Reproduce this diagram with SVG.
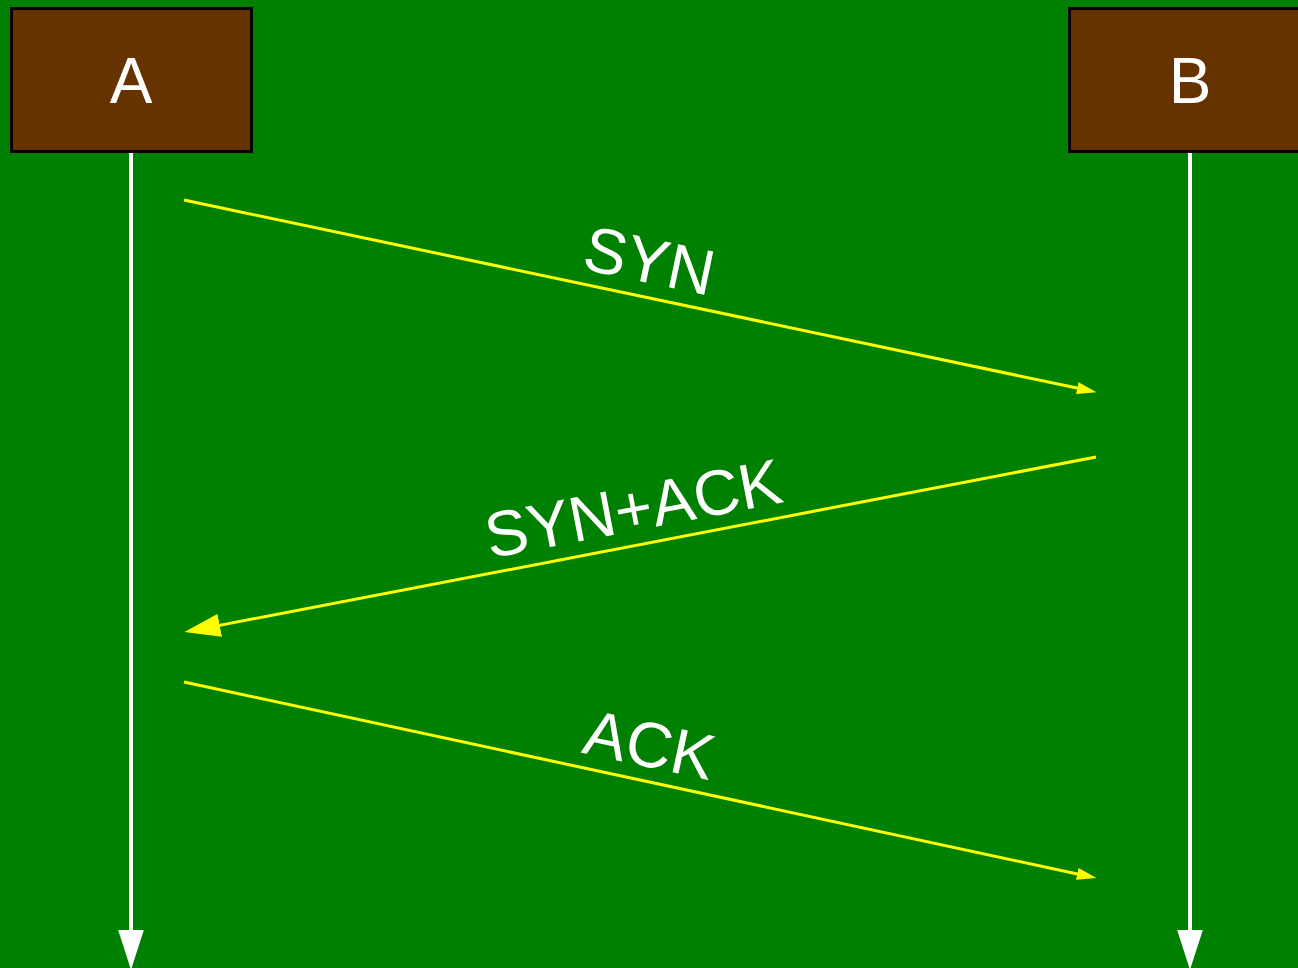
<svg xmlns="http://www.w3.org/2000/svg" width="1298" height="968" viewBox="0 0 1298 968">
<defs>
<style>
.box{fill:#663300;stroke:#000;stroke-width:3}
.lbl{font-family:"Liberation Sans",Arial,sans-serif;font-size:64px;fill:#fff;text-anchor:middle}
.life{stroke:#fff;stroke-width:4;fill:none}
.msg{stroke:#ffff00;stroke-width:3;fill:none}
</style>
<marker id="wa" markerUnits="userSpaceOnUse" markerWidth="40" markerHeight="30" viewBox="0 0 34 22" refX="24" refY="11" orient="auto"><path d="M0,0 L34,11 L0,22 Z" fill="#fff"/></marker>
<marker id="ys" markerUnits="userSpaceOnUse" markerWidth="20" markerHeight="12" viewBox="0 0 18 11" refX="12" refY="5.5" orient="auto"><path d="M0,0 L18,5.5 L0,11 Z" fill="#ffff00"/></marker>
<marker id="yl" markerUnits="userSpaceOnUse" markerWidth="36" markerHeight="24" viewBox="0 0 34 22" refX="24" refY="11" orient="auto"><path d="M0,0 L34,11 L0,22 Z" fill="#ffff00"/></marker>
</defs>
<rect width="1298" height="968" fill="#008000"/>
<g id="connectors">
<line class="life" x1="131" y1="153" x2="131" y2="958" marker-end="url(#wa)"/>
<line class="life" x1="1190" y1="153" x2="1190" y2="958" marker-end="url(#wa)"/>
<line class="msg" x1="184" y1="200" x2="1090.1" y2="390.8" marker-end="url(#ys)"/>
<line class="msg" x1="1096" y1="457" x2="194.8" y2="630.1" marker-end="url(#yl)"/>
<line class="msg" x1="184" y1="682" x2="1090.1" y2="876.7" marker-end="url(#ys)"/>
<text class="lbl" transform="translate(642,296) rotate(11.9)" y="-14">SYN</text>
<text class="lbl" transform="translate(640,544) rotate(-10.86)" y="-14">SYN+ACK</text>
<text class="lbl" transform="translate(642,780) rotate(12.13)" y="-14">ACK</text>
</g>
<g id="A">
<rect class="box" x="11.5" y="8.5" width="240" height="143"/>
<text class="lbl" x="131" y="103">A</text>
</g>
<g id="B">
<rect class="box" x="1069.5" y="8.5" width="240" height="143"/>
<text class="lbl" x="1190" y="103">B</text>
</g>
</svg>
